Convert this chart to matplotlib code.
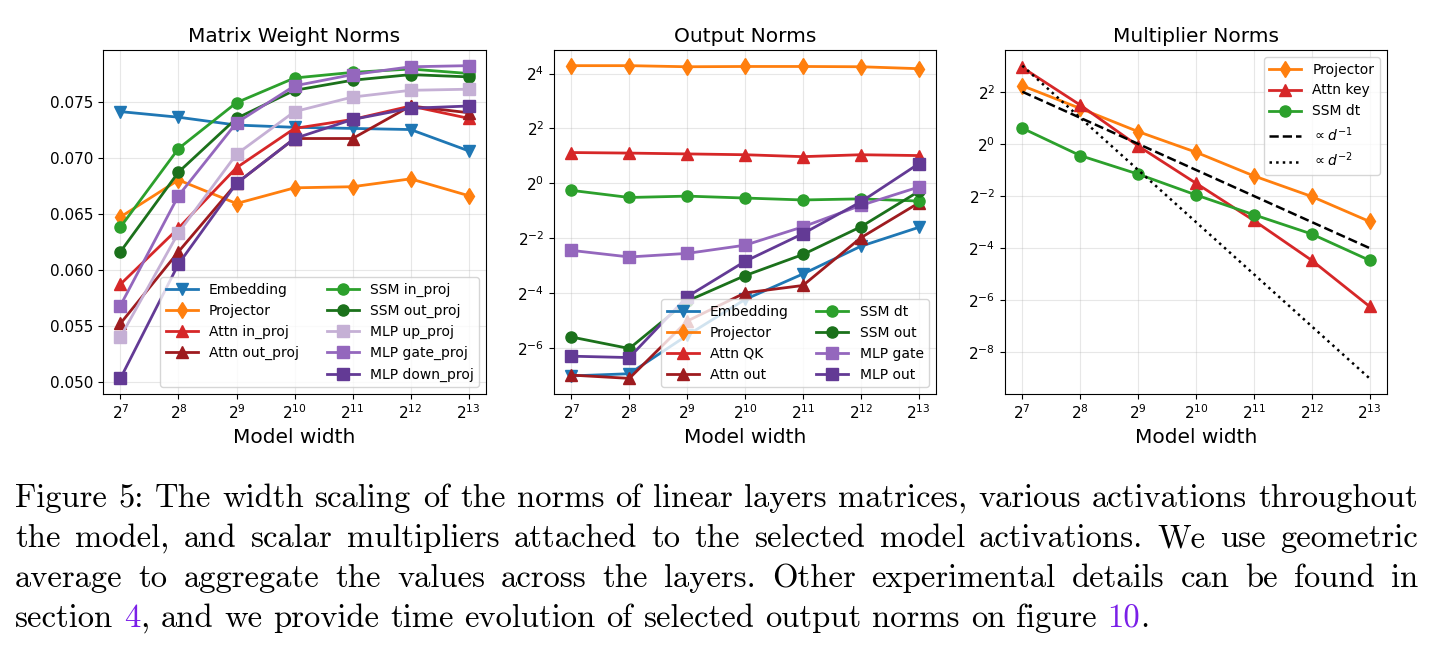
import re
import matplotlib
matplotlib.use('Agg')
import matplotlib.pyplot as plt
import numpy as np
from matplotlib.transforms import IdentityTransform
from matplotlib.lines import Line2D

widths = [128, 256, 512, 1024, 2048, 4096, 8192]

# matrix weight norms (linear values)
w_embedding = [0.0741, 0.0736, 0.0729, 0.0727, 0.0726, 0.0725, 0.0706]
w_projector = [0.0647, 0.0680, 0.0659, 0.0673, 0.0674, 0.0681, 0.0666]
w_attn_in = [0.0587, 0.0637, 0.0691, 0.0726, 0.0734, 0.0746, 0.0735]
w_attn_out = [0.0552, 0.0616, 0.0677, 0.0717, 0.0717, 0.0746, 0.0740]
w_ssm_in = [0.0638, 0.0708, 0.0749, 0.0771, 0.0776, 0.0779, 0.0775]
w_ssm_out = [0.0616, 0.0687, 0.0735, 0.0760, 0.0769, 0.0774, 0.0772]
w_mlp_up = [0.0540, 0.0633, 0.0703, 0.0741, 0.0754, 0.0760, 0.0761]
w_mlp_gate = [0.0568, 0.0666, 0.0731, 0.0764, 0.0774, 0.0781, 0.0782]
w_mlp_down = [0.0503, 0.0605, 0.0677, 0.0717, 0.0734, 0.0744, 0.0746]

# output norms, log2 of the value
o_embedding = [-7.03, -6.95, -5.55, -4.24, -3.31, -2.30, -1.61]
o_projector = [4.29, 4.29, 4.25, 4.26, 4.26, 4.25, 4.18]
o_attn_qk = [1.12, 1.10, 1.07, 1.04, 0.97, 1.04, 1.01]
o_attn_out = [-7.00, -7.12, -5.03, -4.00, -3.73, -1.99, -0.72]
o_ssm_dt = [-0.26, -0.52, -0.47, -0.54, -0.61, -0.57, -0.65]
o_ssm_out = [-5.61, -6.03, -4.30, -3.37, -2.60, -1.59, -0.30]
o_mlp_gate = [-2.45, -2.69, -2.56, -2.26, -1.59, -0.81, -0.14]
o_mlp_out = [-6.31, -6.36, -4.14, -2.85, -1.84, -0.68, 0.71]

# multiplier norms, log2 of the value
m_projector = [2.23, 1.36, 0.47, -0.32, -1.23, -2.02, -2.98]
m_attn_key = [2.93, 1.49, -0.08, -1.51, -2.94, -4.47, -6.24]
m_ssm_dt = [0.60, -0.45, -1.16, -1.96, -2.72, -3.46, -4.47]
ref_d1 = [2, 1, 0, -1, -2, -3, -4]
ref_d2 = [3, 1, -1, -3, -5, -7, -9]

blue = '#1f77b4'
orange = '#ff7f0e'
red = '#d62728'
darkred = '#9e1b1f'
green = '#2ca02c'
darkgreen = '#1b711b'
lightpurple = '#c5b0d5'
purple = '#9467bd'
darkpurple = '#633a95'

fig = plt.figure(figsize=(14.35, 6.53), dpi=100)
ax1 = fig.add_axes([0.0718, 0.3966, 0.2669, 0.5268])
ax2 = fig.add_axes([0.3861, 0.3966, 0.2662, 0.5268])
ax3 = fig.add_axes([0.7003, 0.3966, 0.2662, 0.5268])

kw = dict(lw=2, ms=8)

ax1.plot(widths, w_embedding, marker='v', color=blue, label='Embedding', **kw)
ax1.plot(widths, w_projector, marker='d', color=orange, label='Projector', **kw)
ax1.plot(widths, w_attn_in, marker='^', color=red, label='Attn in_proj', **kw)
ax1.plot(widths, w_attn_out, marker='^', color=darkred, label='Attn out_proj', **kw)
ax1.plot(widths, w_ssm_in, marker='o', color=green, label='SSM in_proj', **kw)
ax1.plot(widths, w_ssm_out, marker='o', color=darkgreen, label='SSM out_proj', **kw)
ax1.plot(widths, w_mlp_up, marker='s', color=lightpurple, label='MLP up_proj', **kw)
ax1.plot(widths, w_mlp_gate, marker='s', color=purple, label='MLP gate_proj', **kw)
ax1.plot(widths, w_mlp_down, marker='s', color=darkpurple, label='MLP down_proj', **kw)
ax1.set_yticks([0.050, 0.055, 0.060, 0.065, 0.070, 0.075])
h, l = ax1.get_legend_handles_labels()
h.insert(4, Line2D([], [], linestyle='none'))
l.insert(4, '')
ax1.legend(h, l, loc='lower right', ncol=2, fontsize=10, handlelength=2.3)
ax1.set_title('Matrix Weight Norms', fontsize=14.5)

p = lambda e: 2.0 ** np.array(e)
ax2.plot(widths, p(o_embedding), marker='v', color=blue, label='Embedding', **kw)
ax2.plot(widths, p(o_projector), marker='d', color=orange, label='Projector', **kw)
ax2.plot(widths, p(o_attn_qk), marker='^', color=red, label='Attn QK', **kw)
ax2.plot(widths, p(o_attn_out), marker='^', color=darkred, label='Attn out', **kw)
ax2.plot(widths, p(o_ssm_dt), marker='o', color=green, label='SSM dt', **kw)
ax2.plot(widths, p(o_ssm_out), marker='o', color=darkgreen, label='SSM out', **kw)
ax2.plot(widths, p(o_mlp_gate), marker='s', color=purple, label='MLP gate', **kw)
ax2.plot(widths, p(o_mlp_out), marker='s', color=darkpurple, label='MLP out', **kw)
ax2.set_yscale('log', base=2)
ax2.set_yticks([2.0 ** k for k in range(-6, 5, 2)])
ax2.legend(loc='lower right', ncol=2, fontsize=10, handlelength=2.3)
ax2.set_title('Output Norms', fontsize=14.5)

ax3.plot(widths, p(m_projector), marker='d', color=orange, label='Projector', **kw)
ax3.plot(widths, p(m_attn_key), marker='^', color=red, label='Attn key', **kw)
ax3.plot(widths, p(m_ssm_dt), marker='o', color=green, label='SSM dt', **kw)
ax3.plot(widths, p(ref_d1), '--', color='k', lw=1.8, label=r'$\propto d^{-1}$')
ax3.plot(widths, p(ref_d2), ':', color='k', lw=1.8, label=r'$\propto d^{-2}$')
ax3.set_yscale('log', base=2)
ax3.set_yticks([2.0 ** k for k in range(-8, 3, 2)])
ax3.legend(loc='upper right', fontsize=10, handlelength=2.3)
ax3.set_title('Multiplier Norms', fontsize=14.5)

for ax in (ax1, ax2, ax3):
    ax.set_xscale('log', base=2)
    ax.set_xticks(widths)
    ax.minorticks_off()
    ax.grid(True, alpha=0.3)
    ax.tick_params(labelsize=11)
    ax.set_xlabel('Model width', fontsize=14.5)

# caption, justified like the paper
caption = [
    "Figure 5: The width scaling of the norms of linear layers matrices, various activations throughout",
    "the model, and scalar multipliers attached to the selected model activations.  We use geometric",
    "average to aggregate the values across the layers.  Other experimental details can be found in",
    "section [4], and we provide time evolution of selected output norms on figure [10].",
]
link_color = '#7a1fe8'
cap_left, cap_right = 15, 1418
cap_base = [507, 547, 587, 627]
cap_size = 23.5
H = 653

renderer = fig.canvas.get_renderer()


def txt(s, color='black'):
    return fig.text(0, 0, s, transform=IdentityTransform(), fontsize=cap_size,
                    family='cmr10', color=color, va='baseline', ha='left')


def width(t):
    return t.get_window_extent(renderer).width


probe1, probe2 = txt('a a'), txt('aa')
space = width(probe1) - width(probe2)
probe1.remove()
probe2.remove()

for i, line in enumerate(caption):
    words = []
    for w in line.split():
        parts = re.split(r'\[([^\]]+)\]', w)
        pieces = []
        for j, s in enumerate(parts):
            if s:
                t = txt(s, link_color if j % 2 else 'black')
                pieces.append((t, width(t)))
        words.append(pieces)
    total = sum(wd for pieces in words for _, wd in pieces)
    if i < len(caption) - 1:
        gap = (cap_right - cap_left - total) / (len(words) - 1)
    else:
        gap = space
    x = cap_left
    y = H - cap_base[i]
    for pieces in words:
        for t, wd in pieces:
            t.set_position((x, y))
            x += wd
        x += gap

fig.savefig('out.png', dpi=100)
